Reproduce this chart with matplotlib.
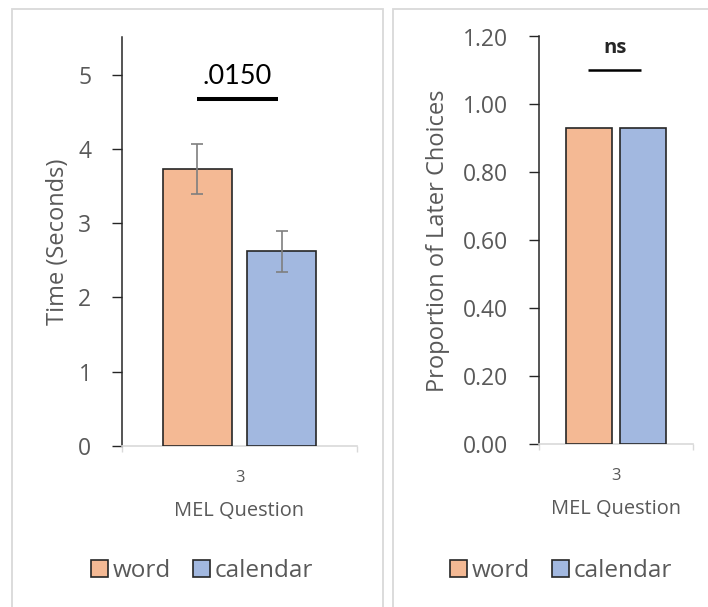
import matplotlib
matplotlib.use("Agg")
import matplotlib.pyplot as plt
from matplotlib.patches import Rectangle, Patch

# data
groups = ["word", "calendar"]
category = ["3"]
time_means = [3.73, 2.62]
time_errs = [0.34, 0.28]
time_pval = ".0150"
prop_means = [0.93, 0.93]
prop_label = "ns"

colors = ["#F4B994", "#A2B8E0"]
edge = "#262626"
grey_txt = "#595959"
W, H = 708, 607

plt.rcParams['font.family'] = ['Open Sans', 'DejaVu Sans']

fig = plt.figure(figsize=(W / 100, H / 100), dpi=100)

# panel frames like the excel chart areas
for x0, x1 in [(12, 383), (393, 730)]:
    fig.patches.append(Rectangle((x0 / W, -0.05), (x1 - x0) / W, 1.05 - 8.5 / H,
                                 transform=fig.transFigure, fill=False,
                                 edgecolor="#D9D9D9", linewidth=1.3))


def px_axes(x0, x1, ytop, ybot):
    return fig.add_axes([x0 / W, 1 - ybot / H, (x1 - x0) / W, (ybot - ytop) / H])


def style(ax, ylim, yticks, fmt, ylabel, tick_fs):
    ax.set_xlim(-0.5, 0.5)
    ax.set_ylim(*ylim)
    ax.set_yticks(yticks)
    ax.set_yticklabels([fmt.format(v) for v in yticks], fontsize=tick_fs, color=grey_txt)
    ax.set_xticks([0])
    ax.set_xticklabels(category, fontsize=12, color=grey_txt)
    ax.set_xticks([-0.5, 0.5], minor=True)
    ax.tick_params(axis='x', which='major', length=0, pad=17)
    ax.tick_params(axis='x', which='minor', length=4, color="#D9D9D9", width=1)
    ax.tick_params(axis='y', length=7, width=1, color=edge, direction='out', pad=15)
    for s in ["top", "right"]:
        ax.spines[s].set_visible(False)
    ax.spines["left"].set_color(edge)
    ax.spines["left"].set_linewidth(1.1)
    ax.spines["bottom"].set_color("#D9D9D9")
    ax.spines["bottom"].set_linewidth(1.2)
    ax.set_xlabel("MEL Question", fontsize=14.4, color=grey_txt, labelpad=11)
    ax.set_ylabel(ylabel, fontsize=17, color=grey_txt)


# left panel: response time
ax1 = px_axes(122, 357, 37.5, 446)
w1, off1 = 0.294, 0.179
ax1.bar([-off1, off1], time_means, width=w1, color=colors, edgecolor=edge, linewidth=1.2, zorder=3)
ax1.errorbar([-off1, off1], time_means, yerr=time_errs, fmt='none', ecolor="#7F7F7F",
             elinewidth=1.2, capsize=4, capthick=1.2, zorder=4)
style(ax1, (0, 5.5), [0, 1, 2, 3, 4, 5], "{:.0f}", "Time (Seconds)", 16.5)
ax1.plot([-0.18, 0.165], [4.67, 4.67], color="black", linewidth=2.9, solid_capstyle='butt')
ax1.text(-0.01, 4.98, time_pval, ha='center', va='center', fontsize=19.5,
         family=['Lato', 'DejaVu Sans'], color="black")
ax1.yaxis.set_label_coords((70 - 122) / 235, 0.5)

# right panel: proportion of later choices
ax2 = px_axes(539, 693, 36.5, 444)
w2, off2 = 0.30, 0.176
ax2.bar([-off2, off2], prop_means, width=w2, color=colors, edgecolor=edge, linewidth=1.2, zorder=3)
style(ax2, (0, 1.2), [0, 0.2, 0.4, 0.6, 0.8, 1.0, 1.2], "{:.2f}", "Proportion of Later Choices", 16.5)
ax2.plot([-0.18, 0.165], [1.10, 1.10], color="black", linewidth=1.8, solid_capstyle='butt')
ax2.text(-0.005, 1.165, prop_label, ha='center', va='center', fontsize=14.5,
         fontweight='bold', color="#262626")
ax2.yaxis.set_label_coords((450 - 539) / 154, 0.5)

# legends under each panel
handles = [Patch(facecolor=c, edgecolor=edge, linewidth=1.2) for c in colors]
for cx in [202, 561]:
    fig.legend(handles, groups, loc='center', bbox_to_anchor=(cx / W, 1 - 571 / H),
               ncol=2, frameon=False, fontsize=17.5, handlelength=0.7, handleheight=0.7,
               handletextpad=0.2, columnspacing=0.9, labelcolor=grey_txt)

fig.savefig("out.png", dpi=100)
